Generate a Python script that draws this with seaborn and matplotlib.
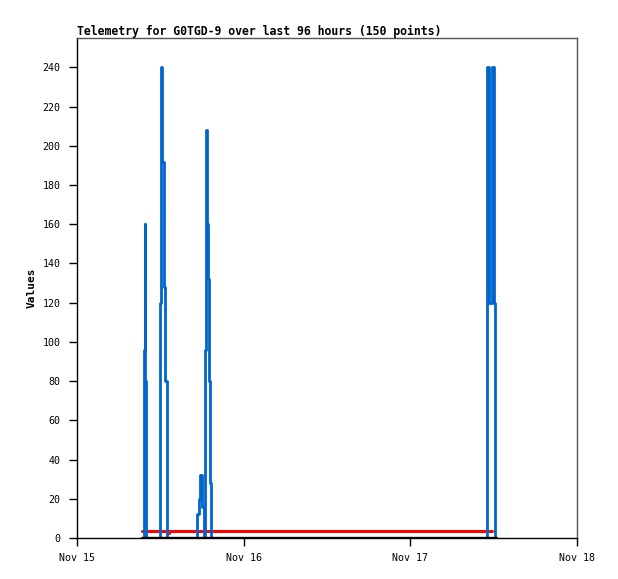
import matplotlib
matplotlib.use("Agg")
import matplotlib.pyplot as plt
import matplotlib.dates as mdates
import numpy as np
import pandas as pd
import seaborn as sns

# hours after Nov 15 00:00 and the readings
start = pd.Timestamp("2023-11-15 00:00")

blue_hours = [9.36, 9.58, 9.72, 9.86, 10.0,
              11.95, 12.05, 12.24, 12.53, 12.72, 12.96,
              17.35, 17.50, 17.64, 17.78, 17.93, 18.07, 18.22,
              18.40, 18.55, 18.70, 18.82, 18.96, 19.10, 19.24,
              59.11, 59.26, 59.69, 59.83, 59.98, 60.19, 60.34]
blue_values = [0, 96, 160, 80, 0,
               120, 240, 192, 128, 80, 0,
               12, 20, 28, 32, 26, 16, 0,
               96, 208, 160, 132, 80, 28, 0,
               240, 120, 224, 240, 120, 0, 0]

red_hours = [9.36, 12.96, 13.29, 59.76]
red_values = [3.5, 2.8, 3.5, 3.5]

black_hours = [9.36, 60.34]
black_values = [0, 0]

y_ticks = list(range(0, 241, 20))
title = "Telemetry for G0TGD-9 over last 96 hours (150 points)"


def to_frame(hours, values):
    return pd.DataFrame({"time": start + pd.to_timedelta(hours, unit="h"), "value": values})


sns.set_style("white")
plt.rcParams["font.family"] = ["DejaVu Sans Mono"]
plt.rcParams["text.color"] = "black"
plt.rcParams["axes.labelcolor"] = "black"

fig = plt.figure(figsize=(6.18, 5.79), dpi=100)
ax = fig.add_axes([77 / 618, 41 / 579, 500 / 618, 500 / 579])

sns.lineplot(data=to_frame(red_hours, red_values), x="time", y="value", ax=ax,
             color="#ff0000", lw=2.2, drawstyle="steps-post", estimator=None, zorder=2)
sns.lineplot(data=to_frame(blue_hours, blue_values), x="time", y="value", ax=ax,
             color="#0066cc", lw=2.0, drawstyle="steps-post", estimator=None, zorder=3)
sns.lineplot(data=to_frame(black_hours, black_values), x="time", y="value", ax=ax,
             color="black", lw=2.4, drawstyle="steps-post", estimator=None, zorder=4)

ax.set_xlim(start, start + pd.Timedelta(days=3))
ax.set_ylim(0, 255)
ax.set_yticks(y_ticks)
ax.xaxis.set_major_locator(mdates.DayLocator())
ax.xaxis.set_major_formatter(mdates.DateFormatter("%b %d"))

ax.tick_params(axis="both", direction="out", length=6, width=1, colors="black",
               labelsize=7.2, pad=6, left=True, bottom=True)
ax.tick_params(axis="x", pad=5)
for side in ["left", "bottom"]:
    ax.spines[side].set_color("black")
    ax.spines[side].set_linewidth(1)
for side in ["top", "right"]:
    ax.spines[side].set_color("#555555")
    ax.spines[side].set_linewidth(1)

ax.set_xlabel("")
ax.set_ylabel("Values", fontsize=8, fontweight="bold", labelpad=4, color="black")
ax.set_title(title, loc="left", fontsize=8.3, fontweight="bold", pad=2, color="black")

fig.savefig("out.png", dpi=100)
